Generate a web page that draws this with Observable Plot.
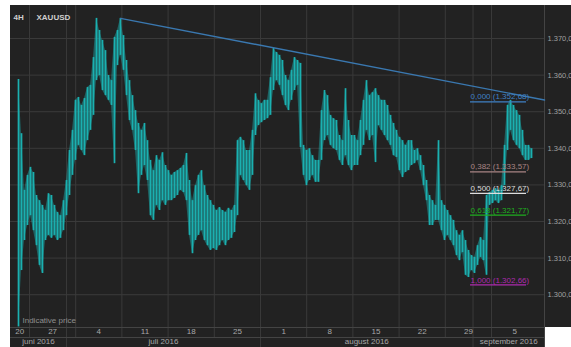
<!DOCTYPE html>
<html><head><meta charset="utf-8">
<script src="https://cdn.jsdelivr.net/npm/d3@7"></script>
<script src="https://cdn.jsdelivr.net/npm/@observablehq/plot@0.6"></script>
<style>
html,body{margin:0;padding:0;background:#fff;}
body{width:571px;height:347px;overflow:hidden;position:relative;font-family:"Liberation Sans",Arial,sans-serif;}
#chart{position:absolute;left:10px;top:5px;width:561px;height:342px;}
#chart svg{display:block;}
#corner{position:absolute;left:545px;top:327px;width:26px;height:20px;background:#fff;}
</style></head><body>
<div id="chart"></div><div id="corner"></div>
<script>
// ---- labels ----
const timeframe = "4H";
const symbol = "XAUUSD";
const note = "Indicative price";

// ---- price bars (each plotted bar ≈ two 4H bars), high / low in USD ----
const barHigh = [1358.8,1344.0,1328.5,1332.6,1334.8,1333.4,1327.1,1325.7,1324.4,1323.0,
1327.6,1327.1,1324.4,1322.5,1321.6,1325.7,1331.2,1339.4,1344.9,1353.1,
1353.9,1351.7,1353.6,1356.6,1357.2,1364.8,1375.5,1372.2,1369.5,1366.7,
1359.9,1358.5,1370.3,1372.2,1375.5,1370.8,1364.0,1358.5,1354.4,1350.3,
1346.8,1344.9,1346.8,1342.1,1336.7,1333.9,1338.0,1336.7,1338.8,1335.3,
1333.9,1332.6,1333.4,1333.9,1334.5,1335.3,1338.6,1331.2,1325.7,1329.8,
1332.6,1333.9,1329.8,1327.1,1325.7,1324.4,1323.0,1323.8,1323.0,1322.5,
1323.6,1323.0,1324.4,1342.1,1343.0,1342.1,1339.4,1339.4,1344.9,1354.9,
1353.1,1352.2,1353.1,1353.1,1359.3,1367.3,1366.2,1365.4,1364.0,1359.9,
1358.5,1361.3,1364.8,1364.0,1363.2,1340.8,1339.4,1339.9,1338.0,1336.7,
1336.7,1350.3,1355.8,1354.4,1349.0,1348.1,1347.6,1343.5,1342.1,1356.3,
1347.6,1343.5,1343.5,1342.1,1347.6,1353.1,1358.5,1354.4,1355.2,1356.3,
1354.4,1353.1,1353.1,1351.7,1349.0,1346.8,1344.9,1343.0,1342.1,1340.8,
1342.1,1342.1,1339.4,1339.9,1338.0,1335.3,1331.2,1327.1,1325.7,1324.4,
1342.1,1325.7,1324.4,1323.0,1321.6,1320.3,1317.5,1316.2,1317.5,1314.8,
1312.1,1310.7,1310.2,1313.4,1315.6,1314.8,1327.1,1327.9,1328.5,1329.0,
1328.5,1329.8,1340.8,1351.7,1353.1,1351.7,1350.3,1349.0,1344.9,1340.8,
1340.8,1339.9];
const barLow = [1291.2,1306.6,1314.8,1318.9,1321.6,1317.5,1313.4,1308.0,1305.8,1314.8,
1316.2,1315.4,1316.2,1314.8,1315.4,1317.5,1321.6,1327.1,1332.6,1336.7,
1340.8,1339.4,1338.0,1342.1,1344.9,1349.0,1358.5,1359.9,1355.8,1354.4,
1353.1,1351.7,1335.8,1362.6,1365.4,1361.3,1354.4,1347.6,1344.9,1339.4,
1327.6,1332.6,1335.3,1331.2,1321.6,1320.3,1324.4,1323.0,1325.7,1324.4,
1325.7,1325.7,1326.3,1327.1,1328.5,1327.9,1325.7,1316.2,1311.2,1314.8,
1316.2,1317.5,1314.8,1313.4,1312.1,1312.6,1312.1,1313.4,1314.8,1313.4,
1314.8,1315.4,1317.0,1321.6,1332.6,1331.2,1329.8,1328.5,1332.6,1343.5,
1346.2,1347.0,1347.6,1348.1,1349.0,1355.8,1358.5,1357.2,1354.4,1351.7,
1350.3,1353.1,1355.8,1357.2,1340.2,1332.6,1329.8,1331.2,1332.6,1330.7,
1330.7,1336.7,1342.1,1343.5,1340.8,1339.9,1339.4,1336.7,1335.3,1338.0,
1335.3,1333.9,1335.3,1335.3,1338.0,1340.8,1344.9,1342.1,1343.5,1336.1,
1346.2,1344.9,1343.5,1342.1,1340.8,1338.0,1337.5,1333.9,1332.0,1333.4,
1333.9,1335.3,1335.8,1336.7,1333.9,1329.8,1325.7,1318.9,1318.9,1320.3,
1320.3,1317.5,1314.8,1316.2,1314.8,1313.4,1310.7,1309.3,1311.5,1305.3,
1304.7,1306.6,1305.8,1308.0,1310.2,1309.3,1305.3,1324.4,1324.9,1325.7,
1324.9,1325.7,1329.8,1339.4,1344.9,1342.1,1340.8,1339.9,1338.0,1336.7,
1336.7,1337.2];
// time axis: trading days since Mon 27 June 2016
const firstBarDay = -1.19;
const barStepDays = 0.3247;

// ---- axes ----
const yTicks = [1300, 1310, 1320, 1330, 1340, 1350, 1360, 1370];
const weekStarts = [-5, 0, 5, 10, 15, 20, 25, 30, 35, 40, 45, 50];
const weekLabels = ["20","27","4","11","18","25","1","8","15","22","29","5"];
const monthStarts = [4, 25, 48];
const monthLabels = ["juni 2016","juli 2016","august 2016","september 2016"];

// ---- Fibonacci retracement ----
const fibLevels = ["0,000","0,382","0,500","0,618","1,000"];
const fibPrices = [1352.68, 1333.57, 1327.67, 1321.77, 1302.66];
const fibColors = ["#3f80c4","#a98484","#dedede","#1fae1f","#ad2aad"];
const fibFrom = 47.73, fibTo = 53.79;

// ---- trend line ----
const trendDays = [9.85, 55.74];
const trendPrices = [1375.5, 1353.2];

// ---- build ----
const xDomain = [-2.056, 55.736];
const yDomain = [1291.04, 1379.02];
const fmt = d3.formatLocale({decimal: ",", thousands: ".", grouping: [3], currency: ["", ""]}).format(",.2f");

const bars = barHigh.map((h, i) => ({t: firstBarDay + i * barStepDays, high: h, low: barLow[i]}));
const trend = trendDays.map((t, i) => ({t, p: trendPrices[i]}));
const fib = fibLevels.map((l, i) => ({level: l, price: fibPrices[i], color: fibColors[i], x1: fibFrom, x2: fibTo,
  label: `${l} (${fmt(fibPrices[i])})`}));
const weekPos = weekStarts.map(s => Math.max(s + 2.5, xDomain[0] + 1));
const mBounds = [xDomain[0], ...monthStarts, xDomain[1]];
const monthPos = monthLabels.map((m, i) => (Math.max(mBounds[i], xDomain[0]) + Math.min(mBounds[i + 1], xDomain[1])) / 2);

const grid = "#3a3a3a";
const teal = "#1bb0b0";
const font = "'Liberation Sans', Arial, sans-serif";

const chart = Plot.plot({
  width: 561, height: 342,
  marginLeft: 0, marginRight: 27, marginTop: 0, marginBottom: 20,
  style: {background: "#222222", fontFamily: font, overflow: "hidden"},
  x: {type: "linear", domain: xDomain, axis: null},
  y: {domain: yDomain, axis: null},
  marks: [
    Plot.ruleY(yTicks, {stroke: grid, strokeWidth: 1}),
    Plot.ruleX(weekStarts, {stroke: grid, strokeWidth: 1, insetBottom: -10}),
    Plot.ruleX(monthStarts, {stroke: grid, strokeWidth: 1, insetBottom: -20}),
    Plot.ruleX([xDomain[1]], {stroke: "#444", strokeWidth: 1, insetBottom: -20}),
    Plot.ruleY([yDomain[0]], {stroke: "#444", strokeWidth: 1}),
    Plot.ruleY([yDomain[0]], {stroke: "#444", strokeWidth: 1, dy: 10}),
    Plot.areaY(bars, {x: "t", y1: "low", y2: "high", fill: teal, fillOpacity: 0.45, curve: "linear"}),
    Plot.ruleX(bars, {x: "t", y1: "low", y2: "high", stroke: teal, strokeWidth: 1.7}),
    Plot.line(trend, {x: "t", y: "p", stroke: "#3a78b0", strokeWidth: 1.4}),
    Plot.ruleY(fib, {y: "price", x1: "x1", x2: "x2", stroke: "color", strokeWidth: 1.3}),
    Plot.text(fib, {x: "x1", y: "price", text: "label", fill: "color", textAnchor: "start", dy: -5, fontSize: 8}),
    Plot.axisY({ticks: yTicks, anchor: "right", tickSize: 0, tickPadding: 3, tickFormat: fmt, fill: "#a0a0a0", fontSize: 7.5, label: null}),
    Plot.text(weekLabels, {x: (d, i) => weekPos[i], text: d => d, frameAnchor: "bottom", dy: 6, fill: "#a8a8a8", fontSize: 8}),
    Plot.text(monthLabels, {x: (d, i) => monthPos[i], text: d => d, frameAnchor: "bottom", dy: 16, fill: "#a8a8a8", fontSize: 8}),
    Plot.text([timeframe], {frameAnchor: "top-left", dx: 3, dy: 9, text: d => d, fill: "#cfcfcf", fontSize: 8, fontWeight: "bold", textAnchor: "start"}),
    Plot.text([symbol], {frameAnchor: "top-left", dx: 26, dy: 9, text: d => d, fill: "#cfcfcf", fontSize: 8, fontWeight: "bold", textAnchor: "start"}),
    Plot.text([note], {frameAnchor: "bottom-left", dx: 12, dy: -4.5, text: d => d, fill: "#8f8f8f", fontSize: 8, textAnchor: "start"})
  ]
});
document.getElementById("chart").appendChild(chart);
</script>
</body></html>
